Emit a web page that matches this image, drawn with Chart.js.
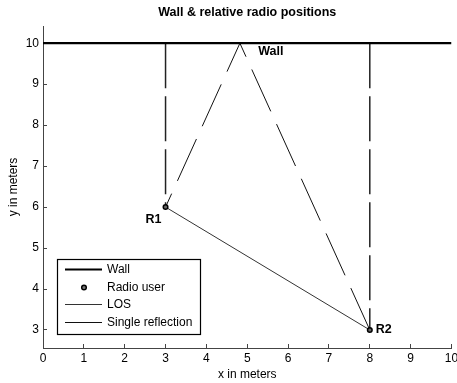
<!DOCTYPE html>
<html>
<head>
<meta charset="utf-8">
<script src="https://cdn.jsdelivr.net/npm/chart.js@4/dist/chart.umd.min.js"></script>
<style>
  html, body { margin: 0; padding: 0; background: #fff; }
  #wrap { width: 457px; height: 383px; }
</style>
</head>
<body>
<div id="wrap"><canvas id="chart" width="457" height="383"></canvas></div>
<script>
// data
const xTicks = [0, 1, 2, 3, 4, 5, 6, 7, 8, 9, 10];
const yTicks = [3, 4, 5, 6, 7, 8, 9, 10];
const wallX = [0, 10];
const wallY = [10, 10];
const radioX = [3, 8];
const radioY = [6, 3];
const radioNames = ['R1', 'R2'];
// reflection path drawn from R2, via the wall, to R1
const reflX = [8, 4.82, 3];
const reflY = [3, 10, 6];
// drop lines from the wall to each radio (null splits the two)
const dropX = [3, 3, null, 8, 8];
const dropY = [10, 6, null, 10, 3];
const wallLabel = { x: 5.27, y: 9.8, text: 'Wall' };
const chartTitle = 'Wall & relative radio positions';

const FONT = "'Liberation Sans', Arial, sans-serif";

function pts(xs, ys) {
    return xs.map((x, i) => (x === null ? { x: NaN, y: NaN } : { x: x, y: ys[i] }));
}

// judul di tengah area grafik (bukan di tengah kanvas)
const titlePlugin = {
    id: 'areaTitle',
    afterDraw(chart) {
        const ctx = chart.ctx;
        const area = chart.chartArea;
        ctx.save();
        ctx.font = 'bold 12.5px ' + FONT;
        ctx.fillStyle = '#000';
        ctx.textAlign = 'center';
        ctx.textBaseline = 'middle';
        ctx.fillText(chartTitle, (area.left + area.right) / 2, 12.5);
        ctx.restore();
    }
};

// texte "Wall", "R1", "R2" sur le graphique
const labelsPlugin = {
    id: 'labels',
    afterDatasetsDraw(chart) {
        const ctx = chart.ctx;
        const xs = chart.scales.x, ys = chart.scales.y;
        ctx.save();
        ctx.font = 'bold 12.5px ' + FONT;
        ctx.fillStyle = '#000';
        ctx.textBaseline = 'middle';
        ctx.textAlign = 'left';
        ctx.fillText(wallLabel.text, xs.getPixelForValue(wallLabel.x), ys.getPixelForValue(wallLabel.y));
        // R1 en bas a gauche, R2 a droite
        ctx.textAlign = 'right';
        ctx.fillText(radioNames[0], xs.getPixelForValue(radioX[0]) - 4, ys.getPixelForValue(radioY[0]) + 12);
        ctx.textAlign = 'left';
        ctx.fillText(radioNames[1], xs.getPixelForValue(radioX[1]) + 6, ys.getPixelForValue(radioY[1]));
        ctx.restore();
    }
};

// legende dans le coin en bas a gauche
const boxLegend = {
    id: 'boxLegend',
    afterDraw(chart) {
        const ctx = chart.ctx;
        const area = chart.chartArea;
        const left = Math.round(area.left + 14);
        const top = Math.round(area.bottom - 89);
        const w = 143, h = 75;
        const rows = [10.5, 28.5, 45.5, 63.5];
        ctx.save();
        ctx.fillStyle = '#fff';
        ctx.fillRect(left, top, w, h);
        ctx.strokeStyle = '#000';
        ctx.lineWidth = 1.2;
        ctx.strokeRect(left + 0.5, top + 0.5, w, h);
        ctx.font = '12px ' + FONT;
        ctx.textBaseline = 'middle';
        ctx.textAlign = 'left';
        chart.data.datasets.filter(d => !d.hideInLegend).forEach((d, i) => {
            const y = top + rows[i];
            if (d.legendMarker) {
                ctx.beginPath();
                ctx.arc(left + 27, y, 2.3, 0, Math.PI * 2);
                ctx.fillStyle = '#777';
                ctx.fill();
                ctx.lineWidth = 1.5;
                ctx.strokeStyle = '#000';
                ctx.stroke();
            } else {
                ctx.beginPath();
                ctx.moveTo(left + 8, y);
                ctx.lineTo(left + 45, y);
                ctx.lineWidth = d.borderWidth;
                ctx.strokeStyle = d.borderColor;
                ctx.stroke();
            }
            ctx.fillStyle = '#000';
            ctx.fillText(d.label, left + 50, y + 0.5);
        });
        ctx.restore();
    }
};

const ctx = document.getElementById('chart').getContext('2d');
new Chart(ctx, {
    type: 'scatter',
    data: {
        datasets: [
            {
                label: 'Wall',
                data: pts(wallX, wallY),
                showLine: true,
                borderColor: '#000',
                borderWidth: 2.2,
                pointRadius: 0
            },
            {
                label: 'Radio user',
                data: pts(radioX, radioY),
                showLine: false,
                legendMarker: true,
                pointRadius: 2.3,
                pointBorderWidth: 1.5,
                pointBorderColor: '#000',
                pointBackgroundColor: '#666'
            },
            {
                label: 'LOS',
                data: pts(radioX, radioY),
                showLine: true,
                borderColor: '#333',
                borderWidth: 1,
                pointRadius: 0
            },
            {
                label: 'Single reflection',
                data: pts(reflX, reflY),
                showLine: true,
                borderColor: '#111',
                borderWidth: 1,
                borderDash: [46, 14],
                pointRadius: 0
            },
            {
                label: 'drop',
                hideInLegend: true,
                data: pts(dropX, dropY),
                showLine: true,
                spanGaps: false,
                borderColor: '#222',
                borderWidth: 1.5,
                borderDash: [45, 8],
                pointRadius: 0
            }
        ]
    },
    options: {
        responsive: false,
        animation: false,
        layout: { padding: { left: 0, right: 1, top: 26, bottom: 0 } },
        plugins: {
            legend: { display: false },
            tooltip: { enabled: false },
            title: { display: false }
        },
        scales: {
            x: {
                type: 'linear',
                min: 0,
                max: 10,
                grid: { drawOnChartArea: false, drawTicks: true, tickLength: -4, color: '#444' },
                border: { display: true, color: '#444', width: 1 },
                ticks: { color: '#000', font: { family: FONT, size: 12 }, padding: 7, maxRotation: 0 },
                title: { display: true, text: 'x in meters', color: '#000', font: { family: FONT, size: 12 }, padding: { top: 0, bottom: 0.8 } },
                afterBuildTicks(scale) { scale.ticks = xTicks.map(v => ({ value: v })); },
                afterFit(scale) {
                    scale.height = 35;
                    scale.paddingLeft = 0;
                    scale.paddingRight = 0;
                }
            },
            y: {
                type: 'linear',
                min: 2.56,
                max: 10.42,
                grid: { drawOnChartArea: false, drawTicks: true, tickLength: -4, color: '#444' },
                border: { display: true, color: '#444', width: 1 },
                ticks: { color: '#000', font: { family: FONT, size: 12 }, padding: 8 },
                title: { display: true, text: 'y in meters', color: '#000', font: { family: FONT, size: 12 }, padding: { top: 6, bottom: 0 } },
                afterBuildTicks(scale) { scale.ticks = yTicks.map(v => ({ value: v })); },
                afterFit(scale) {
                    scale.width = 43;
                    scale.paddingTop = 0;
                    scale.paddingBottom = 0;
                }
            }
        }
    },
    plugins: [labelsPlugin, boxLegend, titlePlugin]
});
</script>
</body>
</html>
